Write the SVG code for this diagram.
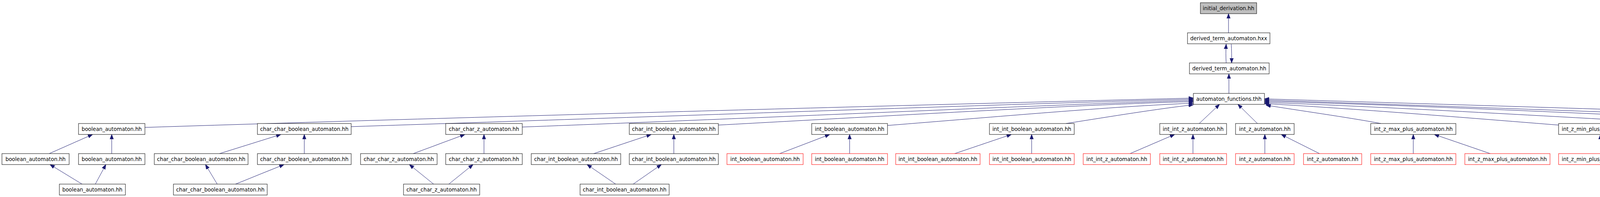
<svg xmlns="http://www.w3.org/2000/svg" width="5901" height="504" viewBox="0 0 5901 504">
<style>
rect{fill:#ffffff;stroke:#000000;stroke-width:1}
rect.red{stroke:#ff0000}
rect.grey{fill:#bfbfbf}
text{font-family:"DejaVu Sans","Liberation Sans",sans-serif;font-size:13.33px;fill:#000000;text-anchor:middle}
#edges path{fill:none;stroke:#191970;stroke-width:1;marker-end:url(#ah)}
</style>
<defs>
<marker id="ah" markerUnits="userSpaceOnUse" markerWidth="13" markerHeight="11" refX="12" refY="5" orient="auto">
<path d="M0,0.5 L12,5 L0,9.5 z" fill="#191970" stroke="#191970" stroke-width="1"/>
</marker>
</defs>
<rect x="0" y="0" width="5901" height="504" style="fill:#ffffff;stroke:none"/>
<g id="edges">
<path d="M3145,84 L3145,35"/>
<path d="M3139,161 C3138,145 3138,128 3139,113"/>
<path d="M3152,113 C3153,128 3153,145 3153,161"/>
<path d="M3146,239 L3146,189"/>
<path d="M3070,316 L3122,267"/>
<path d="M3219,316 L3169,267"/>
<path d="M3535,316 C3450,300 3320,282 3241,269"/>
<path d="M371,326 C1300,296 2600,262 3055,251"/>
<path d="M899,324 C1700,298 2700,262 3055,254"/>
<path d="M1337,325 C2000,300 2750,265 3055,257"/>
<path d="M1839,320 C2300,295 2800,266 3055,260"/>
<path d="M2272,321 C2550,299 2850,272 3055,264"/>
<path d="M2729,316 C2850,297 2960,279 3055,268"/>
<path d="M5494,325 C4800,300 3800,270 3237,253"/>
<path d="M5057,323 C4500,300 3800,275 3237,256"/>
<path d="M4757,325 C4300,300 3700,272 3237,259"/>
<path d="M4464,325 C4150,308 3600,275 3237,262"/>
<path d="M3990,320 C3800,305 3500,280 3237,265"/>
<path d="M126,393 L237,344"/>
<path d="M286,393 L286,344"/>
<path d="M210,471 L128,421"/>
<path d="M244,471 L271,421"/>
<path d="M562,393 L719,344"/>
<path d="M779,393 L779,344"/>
<path d="M556,471 L526,421"/>
<path d="M603,471 L727,421"/>
<path d="M1058,393 L1190,344"/>
<path d="M1239,393 L1239,344"/>
<path d="M1110,471 L1048,421"/>
<path d="M1149,471 L1211,421"/>
<path d="M1520,393 L1667,344"/>
<path d="M1725,393 L1725,344"/>
<path d="M1576,471 L1503,421"/>
<path d="M1621,471 L1693,421"/>
<path d="M1996,393 L2124,344"/>
<path d="M2175,393 L2175,344"/>
<path d="M2444,393 L2589,344"/>
<path d="M2641,393 L2641,344"/>
<path d="M2893,393 L3007,344"/>
<path d="M3054,393 L3054,344"/>
<path d="M3238,393 L3238,344"/>
<path d="M3378,393 L3280,344"/>
<path d="M3618,393 L3618,344"/>
<path d="M3815,393 L3672,344"/>
<path d="M4097,393 L4097,344"/>
<path d="M4290,393 L4149,344"/>
<path d="M4526,393 L4526,344"/>
<path d="M4646,393 L4560,344"/>
<path d="M4820,393 L4820,344"/>
<path d="M4943,393 L4855,344"/>
<path d="M5154,393 L5154,344"/>
<path d="M5335,393 L5202,344"/>
<path d="M5589,393 L5589,344"/>
<path d="M5763,393 L5634,344"/>
</g>
<g id="n_initial_derivation"><rect class="grey" x="3073" y="7" width="144" height="28"/><text x="3145" y="26">initial_derivation.hh</text></g>
<g id="n_derived_term_automaton_hxx"><rect x="3040" y="84" width="211" height="28"/><text x="3145.5" y="103">derived_term_automaton.hxx</text></g>
<g id="n_derived_term_automaton_hh"><rect x="3045" y="161" width="204" height="28"/><text x="3147" y="180">derived_term_automaton.hh</text></g>
<g id="n_automaton_functions"><rect x="3055" y="239" width="182" height="28"/><text x="3146" y="258">automaton_functions.thh</text></g>
<g id="n5_boolean"><rect x="201" y="316" width="170" height="28"/><text x="286" y="335">boolean_automaton.hh</text></g>
<g id="n5_ccb"><rect x="659" y="316" width="240" height="28"/><text x="779" y="335">char_char_boolean_automaton.hh</text></g>
<g id="n5_ccz"><rect x="1141" y="316" width="196" height="28"/><text x="1239" y="335">char_char_z_automaton.hh</text></g>
<g id="n5_cib"><rect x="1611" y="316" width="228" height="28"/><text x="1725" y="335">char_int_boolean_automaton.hh</text></g>
<g id="n5_ib"><rect x="2078" y="316" width="194" height="28"/><text x="2175" y="335">int_boolean_automaton.hh</text></g>
<g id="n5_iib"><rect x="2533" y="316" width="217" height="28"/><text x="2641.5" y="335">int_int_boolean_automaton.hh</text></g>
<g id="n5_iiz"><rect x="2969" y="316" width="171" height="28"/><text x="3054.5" y="335">int_int_z_automaton.hh</text></g>
<g id="n5_iz"><rect x="3163" y="316" width="150" height="28"/><text x="3238" y="335">int_z_automaton.hh</text></g>
<g id="n5_izmax"><rect x="3509" y="316" width="218" height="28"/><text x="3618" y="335">int_z_max_plus_automaton.hh</text></g>
<g id="n5_izmin"><rect x="3990" y="316" width="214" height="28"/><text x="4097" y="335">int_z_min_plus_automaton.hh</text></g>
<g id="n5_r"><rect x="4464" y="316" width="125" height="28"/><text x="4526.5" y="335">r_automaton.hh</text></g>
<g id="n5_z"><rect x="4757" y="316" width="127" height="28"/><text x="4820.5" y="335">z_automaton.hh</text></g>
<g id="n5_zmax"><rect x="5057" y="316" width="194" height="28"/><text x="5154" y="335">z_max_plus_automaton.hh</text></g>
<g id="n5_zmin"><rect x="5494" y="316" width="190" height="28"/><text x="5589" y="335">z_min_plus_automaton.hh</text></g>
<g id="n6_boolean_a"><rect x="5" y="393" width="172" height="28"/><text x="91" y="412">boolean_automaton.hh</text></g>
<g id="n6_boolean_b"><rect x="201" y="393" width="170" height="28"/><text x="286" y="412">boolean_automaton.hh</text></g>
<g id="n6_ccb_a"><rect x="395" y="393" width="240" height="28"/><text x="515" y="412">char_char_boolean_automaton.hh</text></g>
<g id="n6_ccb_b"><rect x="659" y="393" width="240" height="28"/><text x="779" y="412">char_char_boolean_automaton.hh</text></g>
<g id="n6_ccz_a"><rect x="923" y="393" width="196" height="28"/><text x="1021" y="412">char_char_z_automaton.hh</text></g>
<g id="n6_ccz_b"><rect x="1141" y="393" width="196" height="28"/><text x="1239" y="412">char_char_z_automaton.hh</text></g>
<g id="n6_cib_a"><rect x="1360" y="393" width="229" height="28"/><text x="1474.5" y="412">char_int_boolean_automaton.hh</text></g>
<g id="n6_cib_b"><rect x="1611" y="393" width="228" height="28"/><text x="1725" y="412">char_int_boolean_automaton.hh</text></g>
<g id="n6_ib_a"><rect class="red" x="1861" y="393" width="195" height="28"/><text x="1958.5" y="412">int_boolean_automaton.hh</text></g>
<g id="n6_ib_b"><rect class="red" x="2078" y="393" width="194" height="28"/><text x="2175" y="412">int_boolean_automaton.hh</text></g>
<g id="n6_iib_a"><rect class="red" x="2293" y="393" width="216" height="28"/><text x="2401" y="412">int_int_boolean_automaton.hh</text></g>
<g id="n6_iib_b"><rect class="red" x="2533" y="393" width="217" height="28"/><text x="2641.5" y="412">int_int_boolean_automaton.hh</text></g>
<g id="n6_iiz_a"><rect class="red" x="2773" y="393" width="172" height="28"/><text x="2859" y="412">int_int_z_automaton.hh</text></g>
<g id="n6_iiz_b"><rect class="red" x="2969" y="393" width="171" height="28"/><text x="3054.5" y="412">int_int_z_automaton.hh</text></g>
<g id="n6_iz_a"><rect class="red" x="3163" y="393" width="150" height="28"/><text x="3238" y="412">int_z_automaton.hh</text></g>
<g id="n6_iz_b"><rect class="red" x="3337" y="393" width="149" height="28"/><text x="3411.5" y="412">int_z_automaton.hh</text></g>
<g id="n6_izmax_a"><rect class="red" x="3509" y="393" width="218" height="28"/><text x="3618" y="412">int_z_max_plus_automaton.hh</text></g>
<g id="n6_izmax_b"><rect class="red" x="3750" y="393" width="218" height="28"/><text x="3859" y="412">int_z_max_plus_automaton.hh</text></g>
<g id="n6_izmin_a"><rect class="red" x="3990" y="393" width="214" height="28"/><text x="4097" y="412">int_z_min_plus_automaton.hh</text></g>
<g id="n6_izmin_b"><rect class="red" x="4227" y="393" width="213" height="28"/><text x="4333.5" y="412">int_z_min_plus_automaton.hh</text></g>
<g id="n6_r_a"><rect class="red" x="4464" y="393" width="125" height="28"/><text x="4526.5" y="412">r_automaton.hh</text></g>
<g id="n6_r_b"><rect class="red" x="4611" y="393" width="125" height="28"/><text x="4673.5" y="412">r_automaton.hh</text></g>
<g id="n6_z_a"><rect class="red" x="4757" y="393" width="127" height="28"/><text x="4820.5" y="412">z_automaton.hh</text></g>
<g id="n6_z_b"><rect class="red" x="4907" y="393" width="127" height="28"/><text x="4970.5" y="412">z_automaton.hh</text></g>
<g id="n6_zmax_a"><rect class="red" x="5057" y="393" width="194" height="28"/><text x="5154" y="412">z_max_plus_automaton.hh</text></g>
<g id="n6_zmax_b"><rect class="red" x="5275" y="393" width="194" height="28"/><text x="5372" y="412">z_max_plus_automaton.hh</text></g>
<g id="n6_zmin_a"><rect class="red" x="5494" y="393" width="190" height="28"/><text x="5589" y="412">z_min_plus_automaton.hh</text></g>
<g id="n6_zmin_b"><rect class="red" x="5708" y="393" width="190" height="28"/><text x="5803" y="412">z_min_plus_automaton.hh</text></g>
<g id="n7_boolean"><rect x="152" y="471" width="169" height="28"/><text x="236.5" y="490">boolean_automaton.hh</text></g>
<g id="n7_ccb"><rect x="444" y="471" width="240" height="28"/><text x="564" y="490">char_char_boolean_automaton.hh</text></g>
<g id="n7_ccz"><rect x="1033" y="471" width="195" height="28"/><text x="1130.5" y="490">char_char_z_automaton.hh</text></g>
<g id="n7_cib"><rect x="1485" y="471" width="228" height="28"/><text x="1599" y="490">char_int_boolean_automaton.hh</text></g>
</svg>
